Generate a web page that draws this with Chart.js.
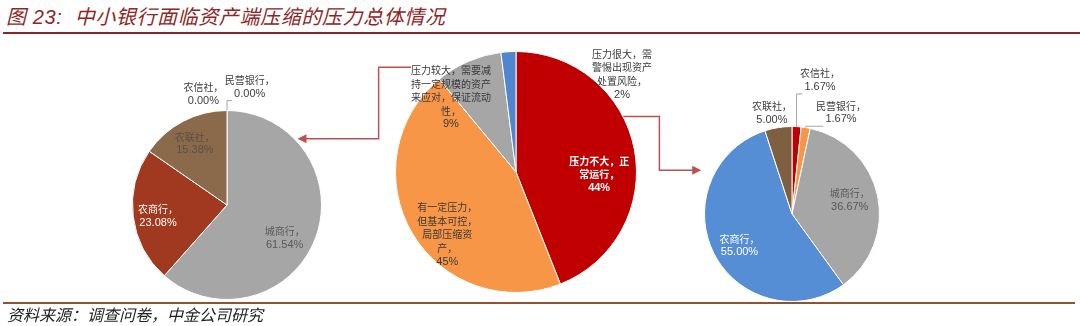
<!DOCTYPE html>
<html>
<head>
<meta charset="utf-8">
<script src="https://cdn.jsdelivr.net/npm/chart.js@4.4.1/dist/chart.umd.min.js"></script>
<style>
    body { margin: 0; width: 1080px; height: 326px; overflow: hidden; background: #fff; position: relative;
           font-family: "Liberation Sans", "Noto Sans CJK SC", sans-serif; }
    #title { position: absolute; left: 6px; top: 7px; font-size: 20px; line-height: 20px; font-style: italic;
             color: #8e2626; white-space: pre; letter-spacing: 0.6px; }
    #title-rule { position: absolute; left: 3px; right: 0; top: 32px; height: 2px; background: #8b2424; }
    #foot-rule { position: absolute; left: 3px; right: 5px; top: 302px; height: 2px; background: #93512f; }
    #source { position: absolute; left: 7px; top: 308px; font-size: 16px; line-height: 16px; font-style: italic; color: #222; }
    canvas { position: absolute; left: 0; top: 0; }
</style>
</head>
<body>
<div id="title">图 23:  中小银行面临资产端压缩的压力总体情况</div>
<div id="title-rule"></div>
<canvas id="links" width="1080" height="326"></canvas>
<canvas id="left-pie" width="1080" height="326"></canvas>
<canvas id="center-pie" width="1080" height="326"></canvas>
<canvas id="right-pie" width="1080" height="326"></canvas>
<div id="foot-rule"></div>
<div id="source">资料来源：调查问卷，中金公司研究</div>
<script>
// data
const pressureLevels = ['压力不大，正常运行', '有一定压力，但基本可控，局部压缩资产',
    '压力较大，需要减持一定规模的资产来应对，保证流动性', '压力很大，需警惕出现资产处置风险'];
const pressureShares = [44, 45, 9, 2];
const bankTypes = ['农信社', '民营银行', '城商行', '农商行', '农联社'];
const leftBankShares = [0, 0, 61.54, 23.08, 15.38];   // 压力较大
const rightBankShares = [1.67, 1.67, 36.67, 55.00, 5.00]; // 压力不大

const CJK_FONT = '10px "Noto Sans CJK SC"';
const NUM_FONT = '11px "Liberation Sans"';
const LINE_H = 13.5;

// wrap by character count, keep "，" off the start of a line
function wrapText(text, perLine) {
    const lines = [];
    let rest = text;
    while (rest.length > perLine) {
        let cut = perLine;
        if (rest[cut] === '，') cut -= 1;
        lines.push(rest.slice(0, cut));
        rest = rest.slice(cut);
    }
    if (rest) lines.push(rest);
    return lines;
}

function labelPlugin(cfg) {
    return {
        id: 'sliceLabels',
        afterDatasetsDraw(chart) {
            const ctx = chart.ctx;
            const meta = chart.getDatasetMeta(0);
            ctx.save();
            ctx.textAlign = 'center';
            ctx.textBaseline = 'middle';
            meta.data.forEach((arc, i) => {
                const r = arc.outerRadius;
                const place = cfg.places[i];
                const lx = arc.x + place[0] * r;
                const ly = arc.y + place[1] * r;
                const lines = cfg.lines[i];
                const top = ly - (lines.length - 1) * LINE_H / 2;
                const bold = cfg.bold && cfg.bold[i] ? 'bold ' : '';

                if (cfg.leaders && cfg.leaders[i]) {
                    const mid = (arc.startAngle + arc.endAngle) / 2;
                    const sx = arc.x + Math.cos(mid) * r;
                    const sy = arc.y + Math.sin(mid) * r;
                    ctx.font = NUM_FONT;
                    const lastW = ctx.measureText(lines[lines.length - 1]).width;
                    const ey = top + (lines.length - 1) * LINE_H + 7;
                    const ex = lx - lastW / 2 - 2;
                    ctx.strokeStyle = '#a6a6a6';
                    ctx.lineWidth = 1;
                    ctx.beginPath();
                    ctx.moveTo(sx, sy);
                    ctx.lineTo(sx, ey);
                    ctx.lineTo(ex, ey);
                    ctx.stroke();
                }

                ctx.fillStyle = cfg.colors[i];
                lines.forEach((line, k) => {
                    ctx.font = bold + (/[\u4e00-\u9fff，]/.test(line) ? CJK_FONT : NUM_FONT);
                    ctx.fillText(line, lx, top + k * LINE_H);
                });
            });
            ctx.restore();
        }
    };
}

function makePie(id, labels, values, colors, padding, labelCfg) {
    return new Chart(document.getElementById(id), {
        type: 'pie',
        data: {
            labels: labels,
            datasets: [{ data: values, backgroundColor: colors, borderColor: '#ffffff', borderWidth: 1 }]
        },
        options: {
            responsive: false,
            animation: false,
            events: [],
            layout: { padding: padding },
            plugins: { legend: { display: false }, tooltip: { enabled: false } }
        },
        plugins: [labelPlugin(labelCfg)]
    });
}

const bankLines = values => bankTypes.map((name, i) => [name + '，', values[i].toFixed(2) + '%']);

const leftChart = makePie('left-pie', bankTypes, leftBankShares,
    ['#c00000', '#f79646', '#a6a6a6', '#a0391f', '#8a6a4a'],
    { left: 132, top: 110, right: 758, bottom: 26 },
    {
        lines: bankLines(leftBankShares),
        places: [[-0.25, -1.17], [0.24, -1.25], [0.61, 0.35], [-0.73, 0.12], [-0.34, -0.65]],
        colors: ['#404040', '#404040', '#595959', '#ffffff', '#5a5048'],
        leaders: [false, true, false, false, false]
    });

const centerChart = makePie('center-pie', pressureLevels, pressureShares,
    ['#c00000', '#f79646', '#a6a6a6', '#4f86cf'],
    { left: 395, top: 51, right: 443, bottom: 33 },
    {
        lines: pressureLevels.map((name, i) => wrapText(name + '，', [6, 6, 8, 6][i]).concat([pressureShares[i] + '%'])),
        places: [[0.69, 0.02], [-0.57, 0.52], [-0.54, -0.62], [0.88, -0.81]],
        colors: ['#ffffff', '#3a3a3a', '#3a3a3a', '#3a3a3a'],
        bold: [true, false, false, false]
    });

const rightChart = makePie('right-pie', bankTypes, rightBankShares,
    ['#c00000', '#f79646', '#a6a6a6', '#558ed5', '#7e5f40'],
    { left: 704, top: 126, right: 200, bottom: 24 },
    {
        lines: bankLines(rightBankShares),
        places: [[0.32, -1.53], [0.56, -1.16], [0.66, -0.16], [-0.6, 0.36], [-0.23, -1.15]],
        colors: ['#404040', '#404040', '#595959', '#ffffff', '#404040'],
        leaders: [true, true, false, false, false]
    });

// connector arrows between the pies
function pieGeom(chart) {
    const a = chart.getDatasetMeta(0).data[0];
    return { x: a.x, y: a.y, r: a.outerRadius };
}

function drawLinks() {
    const ctx = document.getElementById('links').getContext('2d');
    const L = pieGeom(leftChart), C = pieGeom(centerChart), R = pieGeom(rightChart);
    ctx.strokeStyle = '#c0504d';
    ctx.fillStyle = '#c0504d';
    ctx.lineWidth = 1.5;

    function arrowHead(x, y, dir) {
        ctx.beginPath();
        ctx.moveTo(x, y);
        ctx.lineTo(x - dir * 9, y - 4.5);
        ctx.lineTo(x - dir * 9, y + 4.5);
        ctx.closePath();
        ctx.fill();
    }

    // gray slice -> left pie
    const y1 = C.y - 0.87 * C.r;
    const x1 = C.x - 0.87 * C.r;
    const xm = C.x - 1.14 * C.r;
    const y2 = L.y - 0.7 * L.r;
    const tipL = L.x + Math.sqrt(L.r * L.r - (y2 - L.y) * (y2 - L.y)) + 3;
    ctx.beginPath();
    ctx.moveTo(x1, y1);
    ctx.lineTo(xm, y1);
    ctx.lineTo(xm, y2);
    ctx.lineTo(tipL + 8, y2);
    ctx.stroke();
    arrowHead(tipL, y2, -1);

    // red slice -> right pie
    const y3 = C.y - 0.46 * C.r;
    const x3 = C.x + Math.sqrt(C.r * C.r - (y3 - C.y) * (y3 - C.y));
    const xm2 = C.x + 1.19 * C.r;
    const y4 = R.y - 0.5 * R.r;
    const tipR = R.x - Math.sqrt(R.r * R.r - (y4 - R.y) * (y4 - R.y)) - 15;
    ctx.beginPath();
    ctx.moveTo(x3, y3);
    ctx.lineTo(xm2, y3);
    ctx.lineTo(xm2, y4);
    ctx.lineTo(tipR - 8, y4);
    ctx.stroke();
    arrowHead(tipR, y4, 1);
}

drawLinks();
</script>
</body>
</html>
